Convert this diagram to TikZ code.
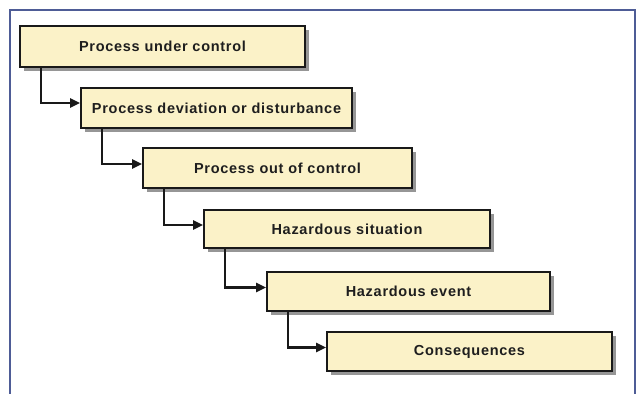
\documentclass[tikz,border=0pt]{standalone}
\usepackage{fontspec}
\setmainfont{Liberation Sans}
\usetikzlibrary{shadows,arrows.meta,calc}
\definecolor{boxfill}{RGB}{251,242,200}
\definecolor{framecol}{RGB}{78,92,150}
\definecolor{txtcol}{RGB}{30,30,30}
\tikzset{
  stepbox/.style={draw=black!90, line width=1.7pt, fill=boxfill, inner sep=0pt,
    text=txtcol, font=\fontsize{14.5}{16}\selectfont\bfseries\addfontfeature{LetterSpace=5},
    drop shadow={shadow xshift=4pt, shadow yshift=-4pt, fill=black!55, opacity=0.75}},
  arr/.style={draw=black!90, line width=2.2pt, -{Triangle[length=10pt,width=9pt]}},
}
\begin{document}
\begin{tikzpicture}[x=1pt,y=-1pt]
\useasboundingbox (0,0) rectangle (638,394);
\fill[white] (0,0) rectangle (638,394);
\draw[framecol, line width=1.8pt] (10,394) -- (10,10) -- (635,10) -- (635,394);
\node[stepbox, minimum width=285pt, minimum height=41pt] (b1) at (162.5,46.5) {Process under control};
\node[stepbox, minimum width=271pt, minimum height=40pt] (b2) at (216.5,108) {Process deviation or disturbance};
\node[stepbox, minimum width=269pt, minimum height=40pt] (b3) at (277.5,168) {Process out of control};
\node[stepbox, minimum width=286pt, minimum height=38pt] (b4) at (347,229) {Hazardous situation};
\node[stepbox, minimum width=283pt, minimum height=39pt] (b5) at (408.5,291.5) {Hazardous event};
\node[stepbox, minimum width=285pt, minimum height=39pt] (b6) at (469.5,351.5) {Consequences};
\draw[arr] ([xshift=22pt]b1.south west) |- ([yshift=5pt]b2.west);
\draw[arr] ([xshift=22pt]b2.south west) |- ([yshift=4pt]b3.west);
\draw[arr] ([xshift=22pt]b3.south west) |- ([yshift=4pt]b4.west);
\draw[arr] ([xshift=22pt]b4.south west) |- ([yshift=4pt]b5.west);
\draw[arr] ([xshift=22pt]b5.south west) |- ([yshift=4pt]b6.west);
\end{tikzpicture}
\end{document}
